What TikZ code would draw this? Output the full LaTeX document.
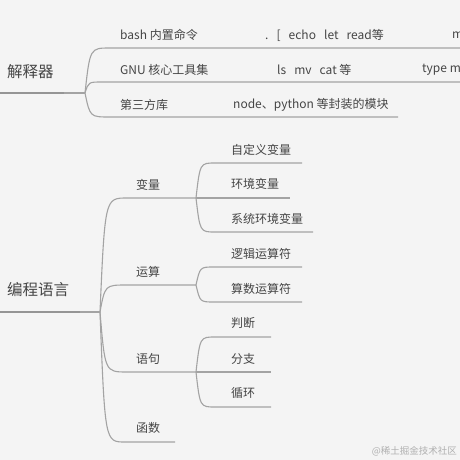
\documentclass[tikz,border=0pt]{standalone}
\usepackage{fontspec}
\setmainfont{Noto Sans CJK SC}
\definecolor{bg}{HTML}{F4F4F4}
\definecolor{linegray}{HTML}{A3A3A3}
\definecolor{rootgray}{HTML}{959595}
\definecolor{txt}{HTML}{454545}
\definecolor{wm}{HTML}{B0B0B0}
\begin{document}
\begin{tikzpicture}[x=1pt,y=-1pt,
  conn/.style={draw=linegray, line width=1.1pt},
  rootline/.style={draw=rootgray, line width=2.4pt},
  lbl/.style={anchor=west, inner sep=0pt, text=txt, font=\fontsize{12}{14}\selectfont},
  rootlbl/.style={anchor=west, inner sep=0pt, text=txt, font=\fontsize{15.5}{18}\selectfont}]
\fill[bg] (0,0) rectangle (460,460);
\useasboundingbox (0,0) rectangle (460,460);
\clip (0,0) rectangle (460,460);

% ---------- 解释器 ----------
\node[rootlbl] (n1) at (7,72) {解释器};
\coordinate (r1a) at (-2,93); \coordinate (r1b) at (64,93); \coordinate (f1) at (85,93);
\draw[rootline] (r1a) -- (r1b);
\draw[conn] (r1b) -- (f1);
\coordinate (b1s) at (110,48); \coordinate (b1e) at (470,48);
\coordinate (b2s) at (102,82); \coordinate (b2e) at (470,82);
\coordinate (b3s) at (110,117); \coordinate (b3e) at (398,117);
\draw[conn] (f1) .. controls (90,48) .. (b1s) -- (b1e);
\draw[conn] (f1) .. controls (88.5,82) .. (b2s) -- (b2e);
\draw[conn] (f1) .. controls (90,117) .. (b3s) -- (b3e);

\node[lbl] (t1) at (120,35) {bash 内置命令};
\node[lbl] (t1b) at (265,35) {.\ \ \ [\ \ \ echo\ \ \ let\ \ \ read等};
\node[lbl] (t1c) at (452,35) {m};
\node[lbl] (t2) at (120,70) {GNU 核心工具集};
\node[lbl] (t2b) at (277,70) {ls\ \ \ mv\ \ \ cat 等};
\node[lbl] (t2c) at (422,70) {type m};
\node[lbl] (t3) at (120,105) {第三方库};
\node[lbl] (t3b) at (233,105) {node、python 等封装的模块};

% ---------- 编程语言 ----------
\node[rootlbl] (n2) at (7,290) {编程语言};
\coordinate (r2a) at (-2,312); \coordinate (r2b) at (80,312); \coordinate (f2) at (100,312);
\draw[rootline] (r2a) -- (r2b);
\draw[conn] (r2b) -- (f2);

\coordinate (f3) at (196,198);
\coordinate (f4) at (196,285);
\coordinate (f5) at (196,372);
\coordinate (fnE) at (175,442);
\draw[conn] (f2) .. controls (105,198) .. (127,198) -- (f3);
\draw[conn] (f2) .. controls (105,285) .. (127,285) -- (f4);
\draw[conn] (f2) .. controls (105,372) .. (127,372) -- (f5);
\draw[conn] (f2) .. controls (105,442) .. (125,442) -- (fnE);

\node[lbl] (v) at (136,185) {变量};
\node[lbl] (y) at (136,272) {运算};
\node[lbl] (s) at (136,359) {语句};
\node[lbl] (h) at (136,428) {函数};

% 变量 children
\coordinate (v1e) at (302,163); \coordinate (v2e) at (290,198); \coordinate (v3e) at (313,232);
\draw[conn] (f3) .. controls (200,163) .. (215,163) -- (v1e);
\draw[conn] (f3) -- (v2e);
\draw[conn] (f3) .. controls (200,232) .. (215,232) -- (v3e);
\node[lbl] (v1) at (231,150) {自定义变量};
\node[lbl] (v2) at (231,184) {环境变量};
\node[lbl] (v3) at (231,219) {系统环境变量};

% 运算 children
\coordinate (y1e) at (302,267); \coordinate (y2e) at (302,302);
\draw[conn] (f4) .. controls (200,267) .. (214,267) -- (y1e);
\draw[conn] (f4) .. controls (200,302) .. (214,302) -- (y2e);
\node[lbl] (y1) at (231,254) {逻辑运算符};
\node[lbl] (y2) at (231,289) {算数运算符};

% 语句 children
\coordinate (s1e) at (271,337); \coordinate (s2e) at (271,372); \coordinate (s3e) at (271,407);
\draw[conn] (f5) .. controls (200,337) .. (215,337) -- (s1e);
\draw[conn] (f5) -- (s2e);
\draw[conn] (f5) .. controls (200,407) .. (215,407) -- (s3e);
\node[lbl] (s1) at (231,323) {判断};
\node[lbl] (s2) at (231,359) {分支};
\node[lbl] (s3) at (231,393) {循环};

\node[anchor=east, inner sep=0pt, text=wm, font=\fontsize{9.5}{11}\selectfont] (w) at (457,451) {@稀土掘金技术社区};
\end{tikzpicture}
\end{document}
